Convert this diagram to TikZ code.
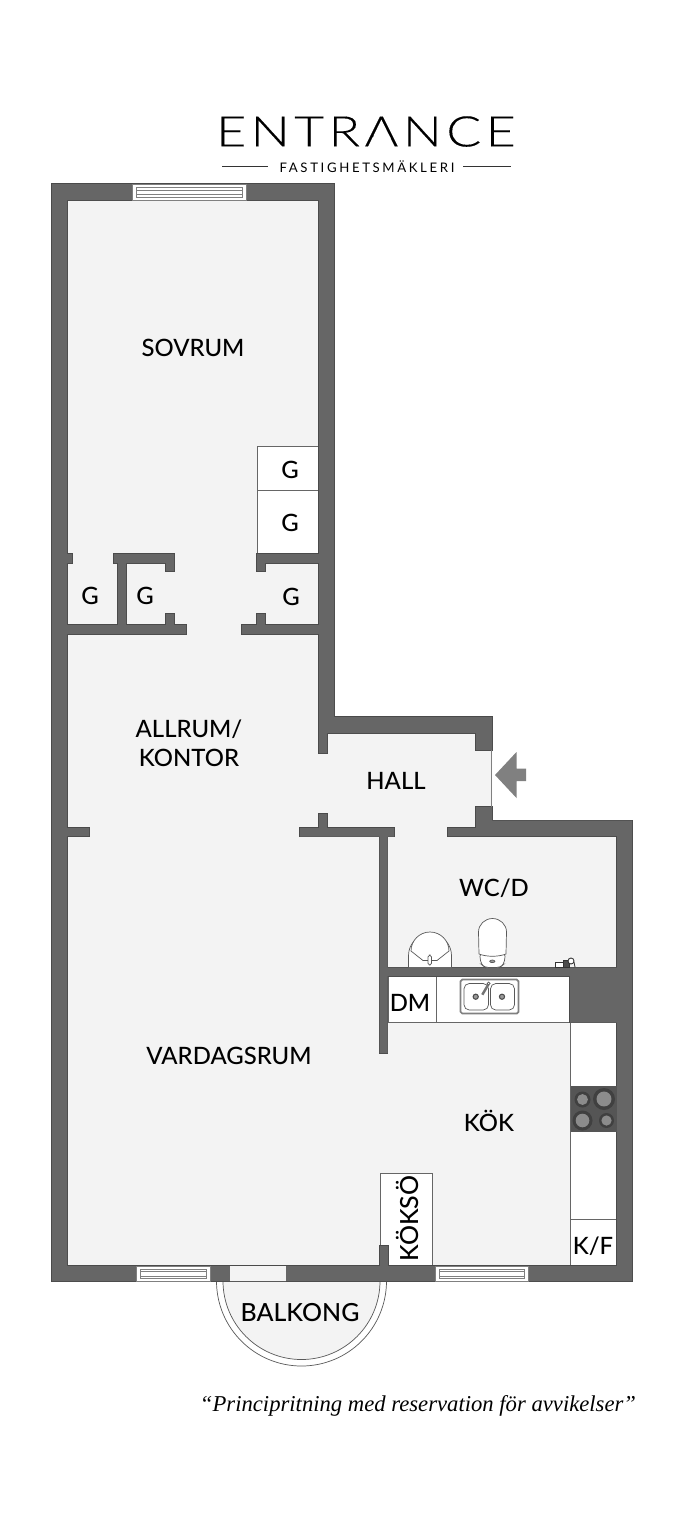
\documentclass[tikz,border=0pt]{standalone}
\usepackage{fontspec}
\setmainfont{Lato Medium}
\newfontfamily\logofont[LetterSpace=11,FakeStretch=1.22,FakeBold=0.2]{Lato Light}
\newfontfamily\subfont[LetterSpace=20]{Lato}
\newfontfamily\notefont{Liberation Serif}
\definecolor{floorgray}{HTML}{F3F3F3}
\definecolor{wallgray}{HTML}{666666}
\definecolor{wallline}{HTML}{4A4A4A}
\definecolor{hobgray}{HTML}{555555}
\newcommand{\wallparts}{
	(52,184) rectangle (67,1281) (52,184) rectangle (334,200)
	(319,184) rectangle (334,733) (319,717) rectangle (492,733)
	(319,733) rectangle (327,753) (476,717) rectangle (492,750)
	(476,807) rectangle (492,836) (476,820.5) rectangle (632,836)
	(448,828) rectangle (476,836) (617,820.5) rectangle (632,1281)
	(52,1266) rectangle (632,1281)
	(67,554) rectangle (72,563) (114,554) rectangle (174,563)
	(166,563) rectangle (174,571) (118,563) rectangle (126,626)
	(67,625) rectangle (186,634) (166,614) rectangle (174,625)
	(242,625) rectangle (319,634) (257,614) rectangle (265,625)
	(257,554) rectangle (319,563) (257,563) rectangle (265,571)
	(67,828) rectangle (89,836) (300,828) rectangle (394,836.5)
	(319,814) rectangle (327,828) (379.5,836) rectangle (387.5,1053)
	(387.5,967.5) rectangle (617,976) (570,976) rectangle (617,1022.5)
	(380,1246) rectangle (388,1266)
}
\newcommand{\glazing}[3]{
	\fill[white] (#1,#3) rectangle (#2,#3+15.5);
	\draw[glass] (#1,#3) rectangle (#2,#3+15.5);
	\draw[glass] (#1+4,#3+3) rectangle (#2-4,#3+12.5);
	\draw[glass] (#1+4,#3+5.5) -- (#2-4,#3+5.5) (#1+4,#3+10) -- (#2-4,#3+10);
}
\begin{document}
\begin{tikzpicture}[x=0.02cm,y=-0.02cm,
					room/.style = {inner sep = 0pt, font=\fontsize{13.6}{16.5}\selectfont},
					fixture/.style = {draw=black!65, line width = 0.4pt},
					glass/.style = {draw=black!50, line width = 0.25pt},
					unit/.style = {fill=white, draw=black!60, line width = 0.4pt}]
					
					\useasboundingbox (0,0) rectangle (684,1536);
					\fill[white] (0,0) rectangle (684,1536);
					
					\fill[floorgray] (52,184) -| (334,717) -| (492,820.5) -| (632,1281) -| cycle;
					
					% balcony
					\draw[fixture,fill=white] (216.5,1281) arc[start angle=180,end angle=0,radius=85];
					\draw[fixture,fill=floorgray] (223,1281) arc[start angle=180,end angle=0,radius=78.5];
					
					% fitted units
					\path[unit] (257,446) rectangle (319,490);
					\path[unit] (257,490) rectangle (319,554);
					\path[unit] (388,976) rectangle (570,1022.5);
					\path[unit] (388,976) rectangle (436,1022.5);
					\path[unit] (570,1022.5) rectangle (617,1266);
					\path[unit] (570,1219.5) rectangle (617,1266);
					\path[unit] (380,1173) rectangle (432,1266);
					
					\draw[wallline,line width=0.6pt] \wallparts;
					\fill[wallgray] \wallparts;
					
					% openings
					\glazing{132}{246}{184.5}
					\glazing{136}{210}{1266}
					\glazing{435}{528}{1266}
					\fill[floorgray] (230,1266) rectangle (286,1281);
					\draw[fixture] (230,1281) -- (286,1281);
					\draw[black!50,line width=0.7pt] (491.5,750) -- (491.5,807);
					\fill[black!50] (495,775) -- (516.5,752) -- (516.5,768.5) -- (526,768.5) -- (526,781) -- (516.5,781) -- (516.5,798) -- cycle;
					
					% hob
					\fill[hobgray] (570.5,1086) rectangle (616.5,1132);
					\foreach \hx/\hy/\hr in {582.5/1099.5/8,604/1099/11,582.5/1120.5/10,606.5/1120.5/7.5}{
						\fill[black!75] (\hx,\hy) circle[radius=\hr];
						\fill[black!45] (\hx,\hy) circle[radius=\hr*0.68];
					}
					
					% sink
					\draw[black!50,fill=white,line width=1pt,rounded corners=1pt] (460.5,979.5) rectangle (518.5,1013.5);
					\draw[fixture,rounded corners=3pt] (464,983.5) rectangle (488.5,1010);
					\draw[fixture,rounded corners=3pt] (490.5,983.5) rectangle (514.5,1010);
					\foreach \dx in {475.7,502}{
						\draw[black!70,fill=black!40,line width=0.6pt] (\dx,996.7) circle[radius=2.6];
					}
					\draw[black!55,line width=1.4pt] (482.3,994.7) -- (488.3,984.5);
					\draw[fixture,fill=white] (488.7,983.5) circle[radius=1.5];
					
					% wash basin
					\draw[fixture,fill=white] (408.5,967) -- (408.5,955.5) arc[start angle=180,end angle=360,radius=21.5] -- (451.5,967);
					\draw[fixture,fill=white] (411,951) arc[start angle=180,end angle=360,radius=19] -- (437,960.5) -- (423,960.5) -- cycle;
					\draw[fixture,fill=white,rounded corners=1pt] (428,955) rectangle (431.5,965);
					
					% toilet
					\draw[fixture,fill=white,rounded corners=2pt] (479.5,953) -- (481,964) -- (485,967.5) -- (500,967.5) -- (504,964) -- (505.5,953) -- cycle;
					\draw[fixture,fill=white] (479,954) -- (478.5,932) arc[start angle=180,end angle=360,x radius=14,y radius=13.5] -- (506,954) .. controls (498,957) and (487,957) .. (479,954);
					\draw[fixture,fill=black!40] (492.3,961.3) ellipse[x radius=2.6,y radius=1.3];
					
					% tap on wall
					\draw[black!80,fill=white,line width=0.5pt] (555,962) rectangle (563,967);
					\draw[black!80,fill=black!70,line width=0.5pt] (563,960.5) rectangle (569,967);
					\draw[black!80,fill=white,line width=0.5pt] (571,961) circle[radius=3];
					\draw[black!80,line width=0.5pt] (574,962) -- (575,967);
					
					\node[room] (sovrum) at (193,348) {SOVRUM};
					\node[room] (garderob1) at (290,470) {G};
					\node[room] (garderob2) at (290,523) {G};
					\node[room] (garderob3) at (90,596) {G};
					\node[room] (garderob4) at (145,596) {G};
					\node[room] (garderob5) at (291,597) {G};
					\node[room,align=center] (allrum) at (189,743) {ALLRUM/\\KONTOR};
					\node[room] (hall) at (396,781) {HALL};
					\node[room] (wcd) at (494,888) {WC/D};
					\node[room] (vardagsrum) at (229,1056) {VARDAGSRUM};
					\node[room] (dm) at (410,1003) {DM};
					\node[room] (kok) at (489,1121) {KÖK};
					\node[room] (kf) at (593,1246) {K/F};
					\node[room,rotate=90,font=\fontsize{14.2}{16}\selectfont] (kokso) at (407,1218.5) {KÖKSÖ};
					\node[room,font=\fontsize{14.2}{16}\selectfont] (balkong) at (300,1313) {BALKONG};
					
					\node[inner sep=0pt,font=\logofont\fontsize{24}{26}\selectfont] (brand) at (366,131.5) {ENTRANCE};
					% the logo's A has no bar
					\fill[white] (374.4,134.6) -- (388.8,134.6) -- (390.9,138.6) -- (372.3,138.6) -- cycle;
					\node[inner sep=0pt,font=\subfont\fontsize{7.5}{8}\selectfont] (subbrand) at (367,166.5) {FASTIGHETSMÄKLERI};
					\draw[black!80,line width=0.7pt] (222,166.7) -- (268,166.7);
					\draw[black!80,line width=0.7pt] (463,166.7) -- (511,166.7);
					\node[inner sep=0pt,font=\notefont\itshape\fontsize{12.9}{15}\selectfont] (note) at (418,1406) {“Principritning med reservation för avvikelser”};
					
					\end{tikzpicture}
\end{document}
